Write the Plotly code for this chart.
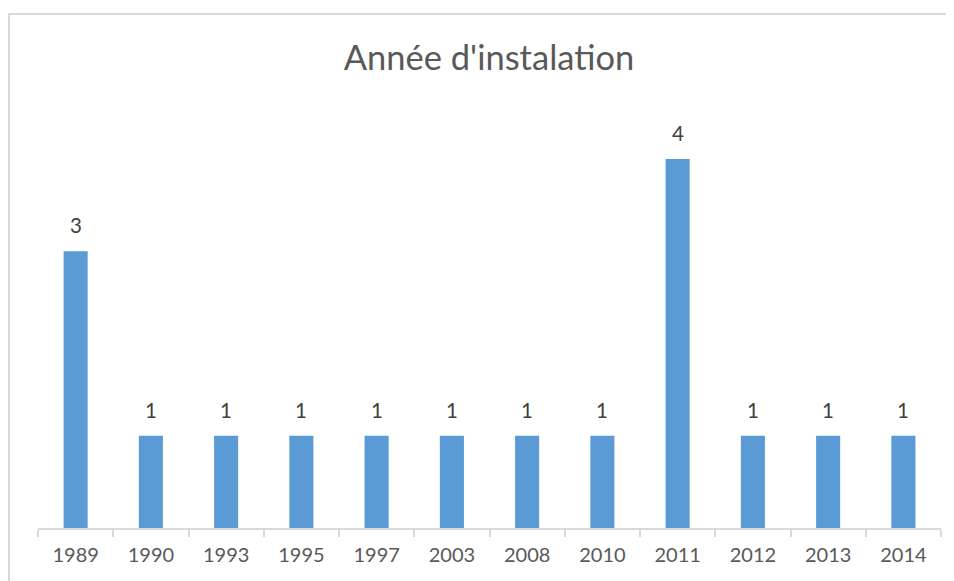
import plotly.graph_objects as go

years = ["1989", "1990", "1993", "1995", "1997", "2003", "2008", "2010", "2011", "2012", "2013", "2014"]
counts = [3, 1, 1, 1, 1, 1, 1, 1, 4, 1, 1, 1]
title_text = "Année d'instalation"

# The page adds an 8px body margin, so the figure is sized/positioned to compensate.
W, H = 946, 573
L, R, T, B = 30, 13, 105, 53
PW, PH = W - L - R, H - T - B

fig = go.Figure(
    go.Bar(
        x=years,
        y=counts,
        marker=dict(color="#5B9BD5", line=dict(width=0)),
        hoverinfo="x+y",
    )
)

# value labels, placed at each category index / bar value
for i, c in enumerate(counts):
    fig.add_annotation(
        x=i,
        y=c,
        xref="x",
        yref="y",
        text=str(c),
        showarrow=False,
        yanchor="middle",
        yshift=26,
        font=dict(color="#404040", size=20.5, family="Lato"),
    )

fig.update_layout(
    width=W,
    height=H,
    margin=dict(l=L, r=R, t=T, b=B, autoexpand=False),
    paper_bgcolor="white",
    plot_bgcolor="white",
    font=dict(family="Lato", color="#595959"),
    title=dict(
        text=title_text,
        x=481 / W,
        xanchor="center",
        xref="container",
        y=1 - 50 / H,
        yanchor="middle",
        yref="container",
        font=dict(size=34.5, color="#595959", family="Lato"),
    ),
    bargap=0.68,
    showlegend=False,
)

fig.update_xaxes(
    type="category",
    range=[-0.5, len(years) - 0.5],
    automargin=False,
    tickangle=0,
    showline=True,
    linecolor="#D9D9D9",
    linewidth=1.5,
    ticks="outside",
    tickson="boundaries",
    ticklen=7,
    tickcolor="#D9D9D9",
    tickwidth=1.5,
    ticklabelstandoff=8,
    tickfont=dict(size=20, color="#595959", family="Lato"),
    showgrid=False,
)
fig.update_yaxes(
    range=[0, 4.5],
    visible=False,
    showgrid=False,
    zeroline=False,
)

# outer chart border
fig.add_shape(
    type="rect",
    xref="paper",
    yref="paper",
    x0=(1 - L) / PW,
    x1=1.2,
    y0=-0.3,
    y1=1 + (T - 6) / PH,
    line=dict(color="#D9D9D9", width=2),
    fillcolor="rgba(0,0,0,0)",
    layer="below",
)

fig.write_html("out.html")
